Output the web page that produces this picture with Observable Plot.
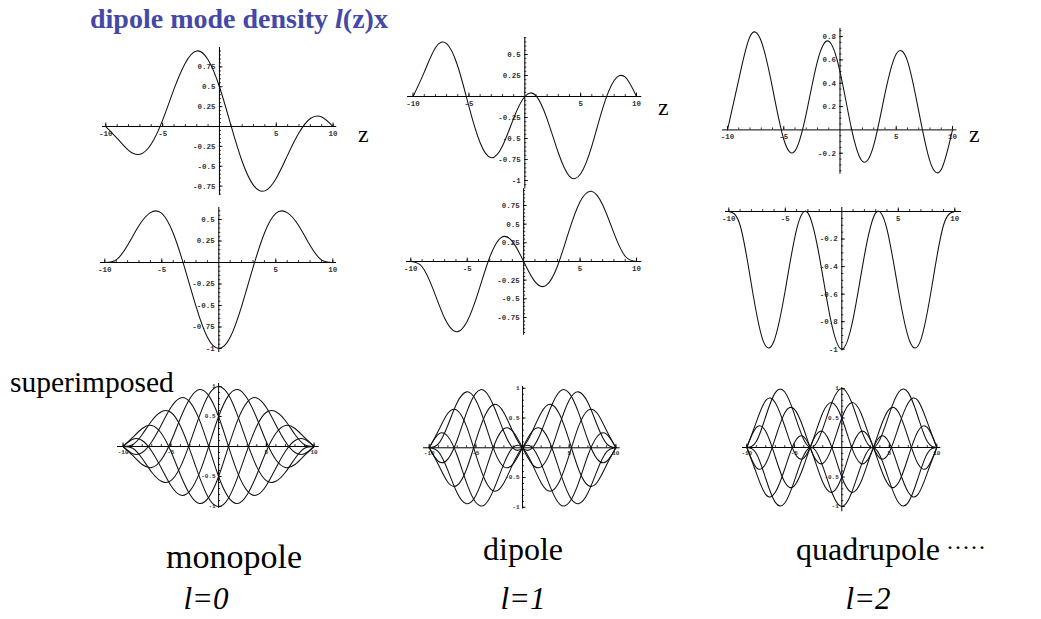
<!DOCTYPE html>
<html>
<head>
<meta charset="utf-8">
<script src="https://cdn.jsdelivr.net/npm/d3@7"></script>
<script src="https://cdn.jsdelivr.net/npm/@observablehq/plot@0.6"></script>
<style>
  html, body { margin: 0; padding: 0; background: #fff; }
  #fig { position: relative; width: 1041px; height: 619px; overflow: hidden; background: #fff; }
  #fig > svg, #fig > figure { position: absolute; margin: 0; }
</style>
</head>
<body>
<div id="fig"></div>
<script>
// Position along the axis, z = -10 ... 10
const zValues = [-10, -9, -8, -7, -6, -5, -4, -3, -2, -1, 0, 1, 2, 3, 4, 5, 6, 7, 8, 9, 10];

// Mode density for six carrier phases (0°, 60°, ..., 300°), one family per multipole
const mono0   = [0, -0.03, -0.20, -0.43, -0.58, -0.57, -0.34, 0.06, 0.51, 0.87, 1, 0.87, 0.51, 0.06, -0.34, -0.57, -0.58, -0.43, -0.20, -0.03, 0];
const mono60  = [0, -0.15, -0.30, -0.35, -0.22, 0.08, 0.47, 0.80, 0.95, 0.84, 0.50, 0.02, -0.44, -0.74, -0.81, -0.65, -0.36, -0.08, 0.10, 0.12, 0];
const mono120 = [0, -0.12, -0.10, 0.08, 0.36, 0.65, 0.81, 0.74, 0.44, -0.02, -0.50, -0.84, -0.95, -0.80, -0.47, -0.08, 0.22, 0.35, 0.30, 0.15, 0];
const mono180 = [0, 0.03, 0.20, 0.43, 0.58, 0.57, 0.34, -0.06, -0.51, -0.87, -1, -0.87, -0.51, -0.06, 0.34, 0.57, 0.58, 0.43, 0.20, 0.03, 0];
const mono240 = [0, 0.15, 0.30, 0.35, 0.22, -0.08, -0.47, -0.80, -0.95, -0.84, -0.50, -0.02, 0.44, 0.74, 0.81, 0.65, 0.36, 0.08, -0.10, -0.12, 0];
const mono300 = [0, 0.12, 0.10, -0.08, -0.36, -0.65, -0.81, -0.74, -0.44, 0.02, 0.50, 0.84, 0.95, 0.80, 0.47, 0.08, -0.22, -0.35, -0.30, -0.15, 0];

const dip0   = [0, 0.07, 0.38, 0.76, 0.94, 0.80, 0.40, -0.06, -0.32, -0.27, 0, 0.27, 0.32, 0.06, -0.40, -0.80, -0.94, -0.76, -0.38, -0.07, 0];
const dip60  = [0, 0.29, 0.58, 0.63, 0.36, -0.12, -0.55, -0.73, -0.59, -0.26, 0, 0.01, -0.27, -0.67, -0.95, -0.92, -0.59, -0.13, 0.19, 0.23, 0];
const dip120 = [0, 0.23, 0.19, -0.13, -0.59, -0.92, -0.95, -0.67, -0.27, 0.01, 0, -0.26, -0.59, -0.73, -0.55, -0.12, 0.36, 0.63, 0.58, 0.29, 0];
const dip180 = [0, -0.07, -0.38, -0.76, -0.94, -0.80, -0.40, 0.06, 0.32, 0.27, 0, -0.27, -0.32, -0.06, 0.40, 0.80, 0.94, 0.76, 0.38, 0.07, 0];
const dip240 = [0, -0.29, -0.58, -0.63, -0.36, 0.12, 0.55, 0.73, 0.59, 0.26, 0, -0.01, 0.27, 0.67, 0.95, 0.92, 0.59, 0.13, -0.19, -0.23, 0];
const dip300 = [0, -0.23, -0.19, 0.13, 0.59, 0.92, 0.95, 0.67, 0.27, -0.01, 0, 0.26, 0.59, 0.73, 0.55, 0.12, -0.36, -0.63, -0.58, -0.29, 0];

const quad0   = [0, 0.10, 0.53, 0.93, 0.94, 0.57, 0.13, 0.01, 0.32, 0.78, 1, 0.78, 0.32, 0.01, 0.13, 0.57, 0.94, 0.93, 0.53, 0.10, 0];
const quad60  = [0, 0.43, 0.80, 0.76, 0.36, -0.08, -0.18, 0.14, 0.59, 0.76, 0.50, 0.02, -0.27, -0.13, 0.31, 0.65, 0.59, 0.16, -0.27, -0.34, 0];
const quad120 = [0, 0.34, 0.27, -0.16, -0.59, -0.65, -0.31, 0.13, 0.27, -0.02, -0.50, -0.76, -0.59, -0.14, 0.18, 0.08, -0.36, -0.76, -0.80, -0.43, 0];
const quad180 = [0, -0.10, -0.53, -0.93, -0.94, -0.57, -0.13, -0.01, -0.32, -0.78, -1, -0.78, -0.32, -0.01, -0.13, -0.57, -0.94, -0.93, -0.53, -0.10, 0];
const quad240 = [0, -0.43, -0.80, -0.76, -0.36, 0.08, 0.18, -0.14, -0.59, -0.76, -0.50, -0.02, 0.27, 0.13, -0.31, -0.65, -0.59, -0.16, 0.27, 0.34, 0];
const quad300 = [0, -0.34, -0.27, 0.16, 0.59, 0.65, 0.31, -0.13, -0.27, 0.02, 0.50, 0.76, 0.59, 0.14, -0.18, -0.08, 0.36, 0.76, 0.80, 0.43, 0];

// Tick labels
const xTickValues = [-10, -5, 5, 10];
const xTickLabels = ["-10", "-5", "5", "10"];
const yTicksQuarter = [0.75, 0.5, 0.25, -0.25, -0.5, -0.75, -1];
const yLabelsQuarter = ["0.75", "0.5", "0.25", "-0.25", "-0.5", "-0.75", "-1"];
const yTicksFifth = [0.8, 0.6, 0.4, 0.2, -0.2, -0.4, -0.6, -0.8, -1];
const yLabelsFifth = ["0.8", "0.6", "0.4", "0.2", "-0.2", "-0.4", "-0.6", "-0.8", "-1"];
const yTicksHalf = [1, 0.5, -0.5, -1];
const yLabelsHalf = ["1", "0.5", "-0.5", "-1"];

const toRows = (arrays) =>
  arrays.flatMap((vals, k) => vals.map((v, i) => ({z: zValues[i], v, k})));

const fig = document.getElementById("fig");

// One Mathematica-style panel: axes through the origin, small mono tick labels
function panel(o) {
  const ppx = (o.xp10 - o.xm10) / 20;
  const x0 = (o.xm10 + o.xp10) / 2;
  const xd = [(o.ax[0] - x0) / ppx, (o.ax[1] - x0) / ppx];
  const yd = [(o.y0 - o.ay[1]) / o.ppy, (o.y0 - o.ay[0]) / o.ppy];
  const width = o.ax[1] - o.ax[0];
  const height = o.ay[1] - o.ay[0];
  const inY = (t) => t >= yd[0] - 1e-9 && t <= yd[1] + 1e-9;

  const xMinor = d3.range(-10, 10.001, 1).filter((t) => t !== 0);
  const yMinor = d3.range(Math.ceil(yd[0] / o.minor) * o.minor, yd[1], o.minor)
    .map((t) => +t.toFixed(4)).filter((t) => Math.abs(t) > 1e-6);
  const yMajor = o.yTicks.filter(inY);
  const yLab = o.yTicks.map((t, i) => ({t, s: o.yLabels[i]})).filter((d) => inY(d.t));
  const xLab = xTickValues.map((t, i) => ({t, s: xTickLabels[i]}));

  const tickFont = {fontFamily: "'Liberation Mono', 'DejaVu Sans Mono', monospace", fontWeight: "bold", fontSize: o.fs, fill: "#333"};

  const chart = Plot.plot({
    width, height,
    marginTop: 0, marginRight: 0, marginBottom: 0, marginLeft: 0,
    x: {domain: xd, axis: null},
    y: {domain: yd, axis: null},
    style: {overflow: "visible", background: "transparent"},
    marks: [
      Plot.ruleY([0], {x1: xd[0], x2: xd[1], stroke: "#000", strokeWidth: 1}),
      Plot.ruleX([0], {y1: yd[0], y2: yd[1], stroke: "#000", strokeWidth: 1}),
      Plot.ruleX(xMinor, {x: (d) => d, y1: 0, y2: 2 / o.ppy, stroke: "#000", strokeWidth: 0.8}),
      Plot.ruleX(xTickValues, {x: (d) => d, y1: 0, y2: 3.5 / o.ppy, stroke: "#000", strokeWidth: 0.9}),
      Plot.ruleY(yMinor, {y: (d) => d, x1: 0, x2: 2 / ppx, stroke: "#000", strokeWidth: 0.8}),
      Plot.ruleY(yMajor, {y: (d) => d, x1: 0, x2: 3.5 / ppx, stroke: "#000", strokeWidth: 0.9}),
      Plot.text(xLab, {x: "t", y: 0, text: "s", dy: o.xdy, ...tickFont}),
      Plot.text(yLab, {x: 0, y: "t", text: "s", dx: -o.ydx, textAnchor: "end", ...tickFont}),
      Plot.line(toRows(o.series), {x: "z", y: "v", z: "k", curve: "natural", stroke: "#111", strokeWidth: 1.05})
    ]
  });
  chart.style.left = o.ax[0] + "px";
  chart.style.top = o.ay[0] + "px";
  fig.appendChild(chart);
}

// Top row: single mode at 60°
panel({xm10: 105, xp10: 332.3, ax: [101.7, 336], y0: 126, ppy: 79.5, ay: [47, 195],
  series: [mono60], yTicks: yTicksQuarter, yLabels: yLabelsQuarter, minor: 0.05, fs: 7.5, xdy: 7, ydx: 4});
panel({xm10: 412.3, xp10: 635.7, ax: [406.7, 641], y0: 95.7, ppy: 84, ay: [36.7, 188],
  series: [dip60], yTicks: yTicksQuarter, yLabels: yLabelsQuarter, minor: 0.05, fs: 7.5, xdy: 7, ydx: 4});
panel({xm10: 727.3, xp10: 952.3, ax: [722.3, 956.7], y0: 129.7, ppy: 116.7, ay: [28.3, 174],
  series: [quad60], yTicks: yTicksFifth, yLabels: yLabelsFifth, minor: 0.05, fs: 7.5, xdy: 7, ydx: 4});

// Middle row: single mode at 180°
panel({xm10: 104.3, xp10: 332.3, ax: [100, 336], y0: 261.7, ppy: 86, ay: [206.7, 351.7],
  series: [mono180], yTicks: yTicksQuarter, yLabels: yLabelsQuarter, minor: 0.05, fs: 7.5, xdy: 7, ydx: 4});
panel({xm10: 410, xp10: 635.7, ax: [405.7, 641], y0: 261.3, ppy: 74.7, ay: [188.3, 335],
  series: [dip180], yTicks: yTicksQuarter, yLabels: yLabelsQuarter, minor: 0.05, fs: 7.5, xdy: 7, ydx: 4});
panel({xm10: 728.3, xp10: 954.3, ax: [725, 961], y0: 210.7, ppy: 137.7, ay: [206.7, 350],
  series: [quad180], yTicks: yTicksFifth, yLabels: yLabelsFifth, minor: 0.05, fs: 7.5, xdy: 7, ydx: 4});

// Bottom row: all six phases superimposed
panel({xm10: 122.3, xp10: 313.3, ax: [116.7, 318.3], y0: 446, ppy: 60, ay: [383, 508],
  series: [mono0, mono60, mono120, mono180, mono240, mono300], yTicks: yTicksHalf, yLabels: yLabelsHalf, minor: 0.1, fs: 6, xdy: 5.5, ydx: 3});
panel({xm10: 429, xp10: 615.7, ax: [423.3, 620], y0: 447, ppy: 59.5, ay: [385.7, 508.3],
  series: [dip0, dip60, dip120, dip180, dip240, dip300], yTicks: yTicksHalf, yLabels: yLabelsHalf, minor: 0.1, fs: 6, xdy: 5.5, ydx: 3});
panel({xm10: 746, xp10: 936, ax: [741.7, 940], y0: 446.7, ppy: 59, ay: [386.7, 511],
  series: [quad0, quad60, quad120, quad180, quad240, quad300], yTicks: yTicksHalf, yLabels: yLabelsHalf, minor: 0.1, fs: 6, xdy: 5.5, ydx: 3});

// Titles and annotations
const svg = d3.select(fig).append("svg")
  .attr("width", 1041).attr("height", 619)
  .style("left", "0px").style("top", "0px")
  .style("pointer-events", "none");
const serif = "'Liberation Serif', 'Times New Roman', serif";

const title = svg.append("text").attr("x", 90).attr("y", 28)
  .attr("font-family", serif).attr("font-weight", "bold").attr("font-size", 28).attr("fill", "#4448a8");
title.append("tspan").text("dipole mode density ");
title.append("tspan").attr("font-style", "italic").text("l");
title.append("tspan").text("(z)x");

[[358, 142], [658, 115], [969, 142]].forEach(([x, y]) =>
  svg.append("text").attr("x", x).attr("y", y).attr("font-family", serif).attr("font-size", 24).text("z"));

svg.append("text").attr("x", 10).attr("y", 392).attr("font-family", serif).attr("font-size", 29.5).text("superimposed");

const names = [["monopole", 234, 568, 34], ["dipole", 523, 560, 32], ["quadrupole", 868, 560, 32]];
names.forEach(([s, x, y, fs]) =>
  svg.append("text").attr("x", x).attr("y", y).attr("text-anchor", "middle")
    .attr("font-family", serif).attr("font-size", fs).text(s));
svg.append("text").attr("x", 946).attr("y", 555).attr("font-family", serif).attr("font-size", 24).text("·····");

const orders = [["l=0", 206], ["l=1", 523], ["l=2", 868]];
orders.forEach(([s, x]) =>
  svg.append("text").attr("x", x).attr("y", 609).attr("text-anchor", "middle")
    .attr("font-family", serif).attr("font-style", "italic").attr("font-size", 31).text(s));
</script>
</body>
</html>
